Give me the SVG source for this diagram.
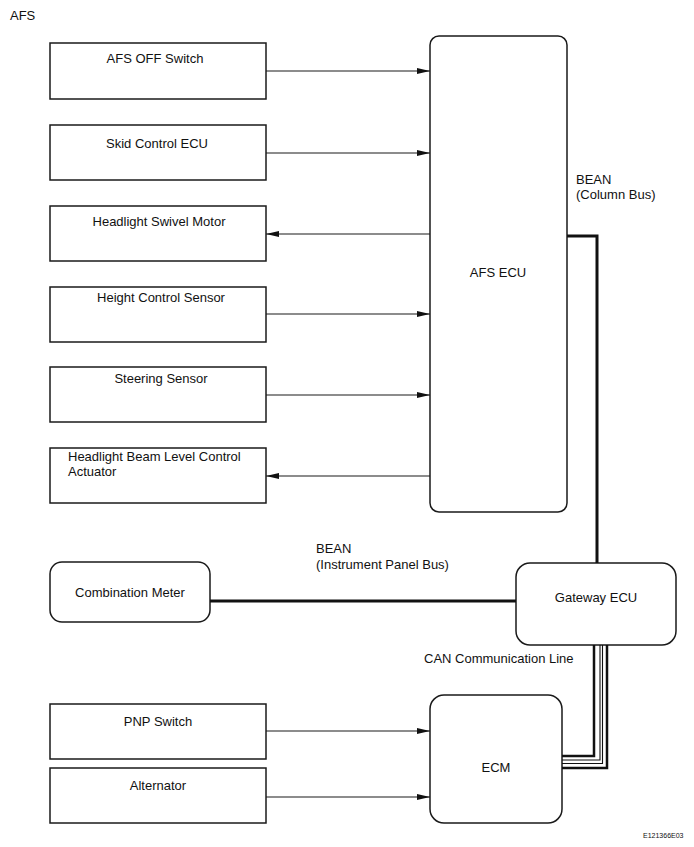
<svg xmlns="http://www.w3.org/2000/svg" width="694" height="847" viewBox="0 0 694 847">
<style>
.box{fill:#fff;stroke:#1a1a1a;stroke-width:1.5}
.t{font-family:"Liberation Sans",Arial,sans-serif;font-size:13px;fill:#111}
.c{text-anchor:middle}
.ar{stroke:#1a1a1a;stroke-width:1.1;fill:none}
.bus{stroke:#111;stroke-width:3;fill:none}
.can1{stroke:#111;stroke-width:2.5;fill:none}
.can2{stroke:#111;stroke-width:1.1;fill:none}
</style>
<defs>
<marker id="ah" viewBox="0 0 13 6" refX="13" refY="3" markerWidth="13" markerHeight="6" orient="auto" markerUnits="userSpaceOnUse">
<path d="M0,0 L13,3 L0,6 z" fill="#111"/>
</marker>
</defs>
<rect width="694" height="847" fill="#fff"/>
<text class="t" x="10" y="20">AFS</text>

<g id="afs-off-switch"><rect class="box" x="50" y="43" width="216" height="56"/><text class="t c" x="155" y="63">AFS OFF Switch</text></g>
<g id="skid-control-ecu"><rect class="box" x="50" y="125" width="216" height="55"/><text class="t c" x="157" y="148">Skid Control ECU</text></g>
<g id="headlight-swivel-motor"><rect class="box" x="50" y="206" width="216" height="55"/><text class="t c" x="159" y="226">Headlight Swivel Motor</text></g>
<g id="height-control-sensor"><rect class="box" x="50" y="287" width="216" height="55"/><text class="t c" x="161" y="302">Height Control Sensor</text></g>
<g id="steering-sensor"><rect class="box" x="50" y="367" width="216" height="55"/><text class="t c" x="161" y="383">Steering Sensor</text></g>
<g id="headlight-beam-level"><rect class="box" x="50" y="448" width="216" height="55"/><text class="t" x="68" y="461">Headlight Beam Level Control</text><text class="t" x="68" y="476">Actuator</text></g>

<g id="afs-ecu"><rect class="box" x="430" y="36" width="137" height="476" rx="9"/><text class="t c" x="498" y="277">AFS ECU</text></g>
<g id="combination-meter"><rect class="box" x="50" y="562" width="160" height="60" rx="12"/><text class="t c" x="130" y="597">Combination Meter</text></g>
<g id="gateway-ecu"><rect class="box" x="516" y="563" width="160" height="82" rx="14"/><text class="t c" x="596" y="602">Gateway ECU</text></g>
<g id="pnp-switch"><rect class="box" x="50" y="704" width="216" height="55"/><text class="t c" x="158" y="726">PNP Switch</text></g>
<g id="alternator"><rect class="box" x="50" y="768" width="216" height="55"/><text class="t c" x="158" y="790">Alternator</text></g>
<g id="ecm"><rect class="box" x="430" y="695" width="132" height="128" rx="14"/><text class="t c" x="496" y="772">ECM</text></g>

<g id="connectors">
<line class="ar" x1="266" y1="71" x2="430" y2="71" marker-end="url(#ah)"/>
<line class="ar" x1="266" y1="153" x2="430" y2="153" marker-end="url(#ah)"/>
<line class="ar" x1="430" y1="234" x2="266" y2="234" marker-end="url(#ah)"/>
<line class="ar" x1="266" y1="314" x2="430" y2="314" marker-end="url(#ah)"/>
<line class="ar" x1="266" y1="395" x2="430" y2="395" marker-end="url(#ah)"/>
<line class="ar" x1="430" y1="476" x2="266" y2="476" marker-end="url(#ah)"/>
<line class="ar" x1="266" y1="731" x2="430" y2="731" marker-end="url(#ah)"/>
<line class="ar" x1="266" y1="797" x2="430" y2="797" marker-end="url(#ah)"/>
<polyline class="bus" points="567,236 597,236 597,563"/>
<line class="bus" x1="210" y1="601" x2="516" y2="601"/>
<polyline class="can1" points="594,645 594,756 562,756"/>
<polyline class="can2" points="600,645 600,760 562,760"/>
<polyline class="can2" points="602.5,645 602.5,763.5 562,763.5"/>
<polyline class="can1" points="607,645 607,768 562,768"/>
</g>

<text class="t" x="576" y="184">BEAN</text>
<text class="t" x="576" y="199">(Column Bus)</text>
<text class="t" x="316" y="553">BEAN</text>
<text class="t" x="316" y="569">(Instrument Panel Bus)</text>
<text class="t" x="424" y="663">CAN Communication Line</text>
<text class="t" x="643" y="838" style="font-size:7px">E121366E03</text>
</svg>
